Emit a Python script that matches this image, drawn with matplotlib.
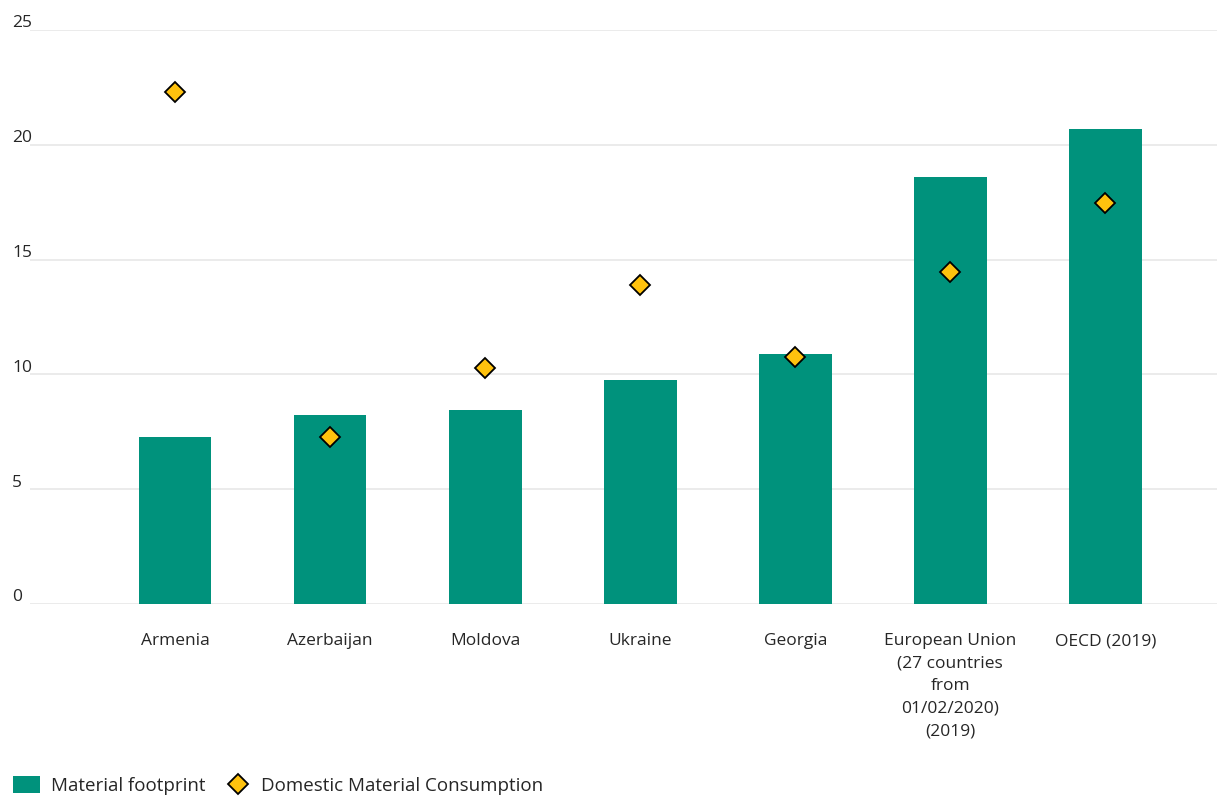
import matplotlib
matplotlib.use("Agg")
import matplotlib.pyplot as plt
from matplotlib.patches import Patch
from matplotlib.lines import Line2D

# Values, tonnes per capita
countries = ["Armenia", "Azerbaijan", "Moldova", "Ukraine", "Georgia",
             "European Union\n(27 countries\nfrom\n01/02/2020)\n(2019)",
             "OECD (2019)"]
material_footprint = [7.27, 8.23, 8.45, 9.75, 10.9, 18.6, 20.7]
domestic_consumption = [22.3, 7.27, 10.3, 13.9, 10.75, 14.46, 17.47]
y_ticks = [0, 5, 10, 15, 20, 25]

GREEN = "#00927c"
YELLOW = "#ffc20e"
TEXT = "#262626"
GRID = "#e8e8e8"

plt.rcParams["font.family"] = ["Open Sans", "DejaVu Sans"]

fig = plt.figure(figsize=(12.17, 7.97), dpi=100)
ax = fig.add_axes([30 / 1217, (797 - 604) / 797, 1 - 30 / 1217, (604 - 30) / 797])

x = list(range(len(countries)))
ax.bar(x, material_footprint, width=0.47, color=GREEN, zorder=2)
ax.plot(x, domestic_consumption, linestyle="none", marker="D", markersize=10,
        markerfacecolor=YELLOW, markeredgecolor="black", markeredgewidth=1.3,
        zorder=3, clip_on=False)

ax.set_ylim(0, 25)
ax.set_xlim(-0.935, 6.72)
ax.set_yticks(y_ticks)
ax.yaxis.grid(True, color=GRID, linewidth=1.2, zorder=0)
ax.set_axisbelow(True)
ax.tick_params(axis="y", length=0, labelleft=False)
for s in ax.spines.values():
    s.set_visible(False)

# y labels sit above their gridlines at the left edge
for v in y_ticks:
    ax.annotate(str(v), xy=(12, v), xycoords=("figure pixels", "data"),
                xytext=(0, -1), textcoords="offset points",
                ha="left", va="bottom", fontsize=12.5, color=TEXT)

ax.set_xticks(x)
ax.set_xticklabels(countries, fontsize=12.5, color=TEXT, linespacing=1.55)
ax.tick_params(axis="x", length=0, pad=21)

handles = [
    Patch(facecolor=GREEN, edgecolor="none", label="Material footprint"),
    Line2D([], [], linestyle="none", marker="D", markersize=10,
           markerfacecolor=YELLOW, markeredgecolor="black",
           markeredgewidth=1.3, label="Domestic Material Consumption"),
]
fig.legend(handles=handles, loc="lower left", bbox_to_anchor=(-0.003, -0.019),
           ncol=2, frameon=False, fontsize=13.5, labelcolor=TEXT,
           handlelength=1.45, handleheight=1.0, handletextpad=0.55,
           columnspacing=1.0)

fig.savefig("out.png", dpi=100, facecolor="white")
